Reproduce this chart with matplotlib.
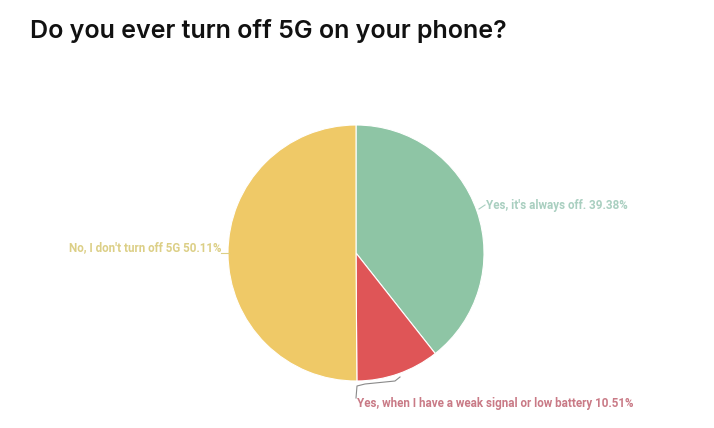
import matplotlib
matplotlib.use("Agg")
import matplotlib.pyplot as plt

categories = ["Yes, it's always off.", "Yes, when I have a weak signal or low battery", "No, I don't turn off 5G"]
values = [39.38, 10.51, 50.11]
colors = ["#8ec5a5", "#df5557", "#efc967"]
label_colors = ["#a9cfc0", "#c97a86", "#dccf86"]

W, H = 714, 428
fig = plt.figure(figsize=(W / 100, H / 100), dpi=100)
fig.patch.set_facecolor("white")

cx, cy, r = 356, 253, 128
ax = fig.add_axes([(cx - r) / W, (H - cy - r) / H, 2 * r / W, 2 * r / H])
ax.pie(values, colors=colors, startangle=90, counterclock=False, radius=1,
       wedgeprops=dict(linewidth=0.8, edgecolor="white"))
ax.set_xlim(-1, 1)
ax.set_ylim(-1, 1)
ax.set_aspect("equal")
ax.axis("off")

def px(x, y):
    return (x - cx) / r, (cy - y) / r

fs = 8.4
fam = ["Roboto", "DejaVu Sans"]
texts = [f"{c} {v:.2f}%" for c, v in zip(categories, values)]

# green label
ax.plot(*zip(px(479, 209), px(485, 205)), color=label_colors[0], lw=0.8, clip_on=False)
ax.text(*px(486, 205), texts[0], color=label_colors[0], fontsize=fs, family=fam,
        fontweight="bold", ha="left", va="center", clip_on=False)
# yellow label
ax.plot(*zip(px(221, 253), px(229, 253)), color=label_colors[2], lw=0.8, clip_on=False)
ax.text(*px(221, 248), texts[2], color=label_colors[2], fontsize=fs, family=fam,
        fontweight="bold", ha="right", va="center", clip_on=False)
# red label
ax.plot(*zip(px(400, 377), px(395, 381), px(365, 384), px(357, 386), px(356, 398)),
        color="#8a8a8a", lw=0.8, clip_on=False)
ax.text(*px(357, 404), texts[1], color=label_colors[1], fontsize=fs, family=fam,
        fontweight="bold", ha="left", va="center", clip_on=False)

fig.text(30 / W, 1 - 31 / H, "Do you ever turn off 5G on your phone?", fontsize=18,
         family=["Inter", "DejaVu Sans"], fontweight="semibold", color="#111111",
         ha="left", va="center")

fig.savefig("out.png", dpi=100, facecolor="white")
